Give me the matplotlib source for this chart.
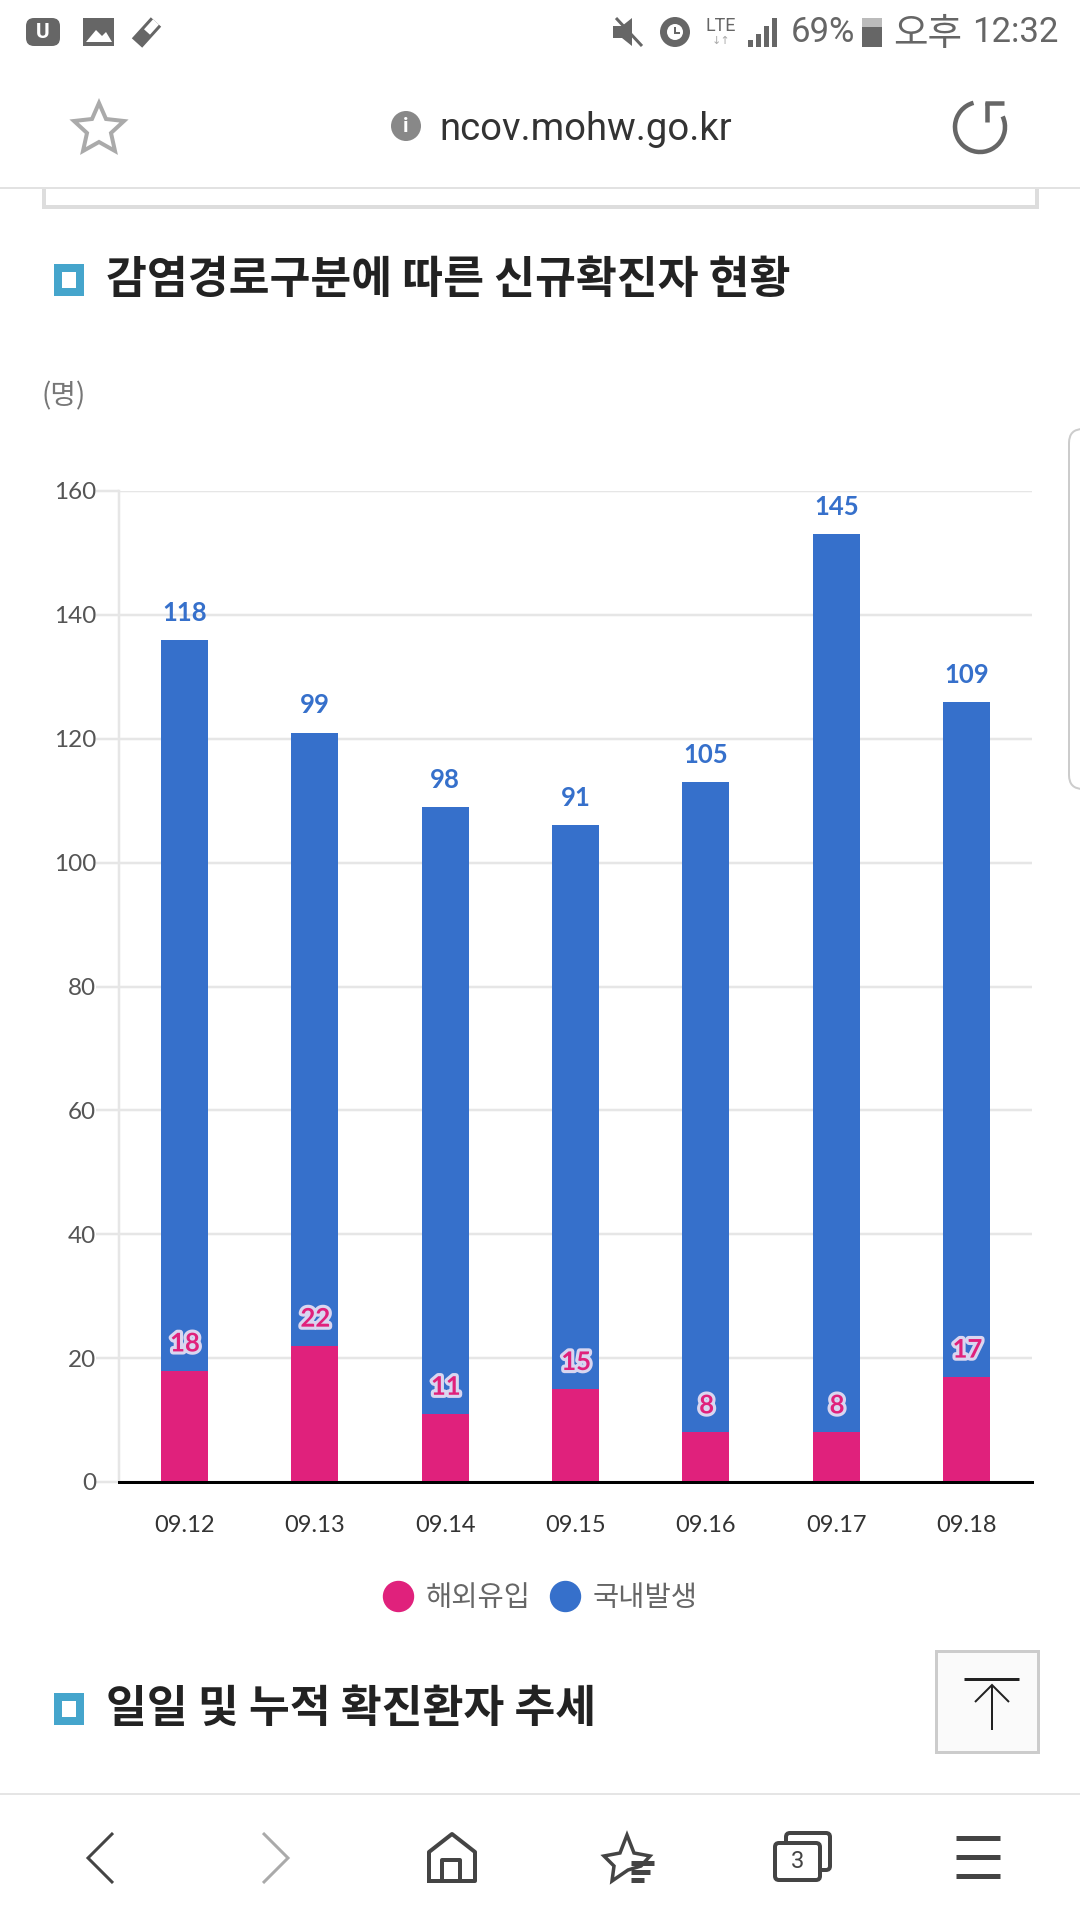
import matplotlib
matplotlib.use('Agg')
import matplotlib.pyplot as plt
import matplotlib.patheffects as pe
from matplotlib.lines import Line2D
from matplotlib.patches import Rectangle, Circle, Polygon, FancyBboxPatch, Arc

dates = ['09.12', '09.13', '09.14', '09.15', '09.16', '09.17', '09.18']
overseas = [18, 22, 11, 15, 8, 8, 17]
domestic = [118, 99, 98, 91, 105, 145, 109]
yticks = [0, 20, 40, 60, 80, 100, 120, 140, 160]

PINK = '#e0217c'
BLUE = '#3670cb'
TEAL = '#45a5cc'
KR = ['Noto Sans CJK KR', 'DejaVu Sans']
LATO = ['Lato', 'Noto Sans CJK KR']
W, H = 1080, 1920

fig = plt.figure(figsize=(W / 100, H / 100), dpi=100, facecolor='white')

# page furniture, drawn in pixel coordinates
bg = fig.add_axes([0, 0, 1, 1])
bg.set_xlim(0, W)
bg.set_ylim(H, 0)
bg.axis('off')


def px(v):
    return v * 0.72


def line(xs, ys, color='#444444', lw=3):
    bg.plot(xs, ys, color=color, lw=px(lw), solid_capstyle='butt', solid_joinstyle='miter')


def box(x0, y0, x1, y1, **kw):
    bg.add_patch(Rectangle((x0, y0), x1 - x0, y1 - y0, **kw))


def heading(y0, text):
    box(54, y0, 84, y0 + 32, fc=TEAL, ec='none')
    box(62, y0 + 8, 76, y0 + 24, fc='white', ec='none')
    bg.text(106, y0 + 16, text, family=KR, fontsize=32, weight='bold', color='#222222',
            ha='left', va='center')


# status bar
GREY = '#666666'
bg.add_patch(FancyBboxPatch((28, 20), 30, 24, boxstyle='round,pad=2,rounding_size=8', fc=GREY, ec='none'))
bg.text(43, 32, 'U', fontsize=15, weight='bold', color='white', ha='center', va='center', family='Roboto')
box(83, 18, 114, 46, fc=GREY, ec='none')
bg.add_patch(Polygon([(86, 42), (96, 30), (102, 36), (106, 32), (112, 42)], fc='white', ec='none'))
line([137, 156], [43, 22], color=GREY, lw=14)
line([147, 156], [32, 22], color='white', lw=8)
bg.add_patch(Polygon([(613, 26), (622, 26), (632, 18), (632, 46), (622, 38), (613, 38)], fc=GREY, ec='none'))
line([616, 642], [18, 46], color=GREY, lw=3)
bg.add_patch(Circle((675, 32), 15, fc=GREY, ec='none'))
bg.add_patch(Circle((675, 32), 8, fc='white', ec='none'))
line([675, 675, 680], [27, 33, 33], color=GREY, lw=2)
bg.text(721, 26, 'LTE', fontsize=13, color=GREY, family='Roboto', ha='center', va='center')
bg.text(721, 41, '↓↑', fontsize=8, color='#aaaaaa', ha='center', va='center')
for i, top in enumerate([40, 34, 26, 18]):
    box(748 + i * 8, top, 753 + i * 8, 47, fc=GREY, ec='none')
bg.text(791, 33, '69%', fontsize=25, color=GREY, family='Roboto', ha='left', va='center')
box(862, 18, 882, 47, fc='#bbbbbb', ec='none')
box(862, 27, 882, 47, fc=GREY, ec='none')
bg.text(893, 34, '오후', fontsize=27, color=GREY, family=KR, ha='left', va='center')
bg.text(972, 33, '12:32', fontsize=25, color=GREY, family='Roboto', ha='left', va='center')

# address bar
bg.add_patch(Polygon([(99, 103), (106, 119), (124, 121), (111, 133), (115, 151), (99, 142),
                      (83, 151), (87, 133), (74, 121), (92, 119)],
                     fc='white', ec='#aaaaaa', lw=px(4), joinstyle='miter'))
bg.add_patch(Circle((406, 126), 15, fc='#888888', ec='none'))
bg.text(406, 126, 'i', fontsize=15, weight='bold', color='white', ha='center', va='center', family='Roboto')
bg.text(439, 129, 'ncov.mohw.go.kr', fontsize=27.5, color='#333333', family='Roboto', ha='left', va='center')
bg.add_patch(Arc((980, 127), 50, 50, theta1=-25, theta2=255, color=GREY, lw=px(4.5)))
line([987, 987], [102, 122], color=GREY, lw=4.5)
line([985, 1004], [103, 103], color=GREY, lw=4.5)

line([0, W], [188, 188], color='#e2e2e2', lw=2)
line([44, 44, 1037, 1037], [189, 207, 207, 189], color='#dddddd', lw=4)

heading(264, '감염경로구분에 따른 신규확진자 현황')
heading(1693, '일일 및 누적 확진환자 추세')

bg.text(64, 396, '(명)', family=KR, fontsize=20, color='#777777', ha='center', va='center')
bg.add_patch(FancyBboxPatch((1069, 429), 40, 360, boxstyle='round,pad=0,rounding_size=14',
                            fc='white', ec='#cccccc', lw=px(2)))

# back to top button
box(936, 1651, 1038, 1752, fc='#fafafa', ec='#cccccc', lw=px(3))
line([964, 1019], [1679, 1679], color='#222222', lw=3)
line([992, 992], [1685, 1730], color='#222222', lw=2)
line([975, 992, 1009], [1702, 1685, 1702], color='#222222', lw=2)

# bottom navigation
line([0, W], [1794, 1794], color='#e5e5e5', lw=2)
line([113, 88, 113], [1833, 1858, 1883])
line([263, 288, 263], [1833, 1858, 1883], color='#aaaaaa')
bg.plot([429, 429, 452, 475, 475, 429], [1881, 1852, 1834, 1852, 1881, 1881], color='#444444', lw=px(4))
bg.plot([442, 442, 460, 460], [1881, 1860, 1860, 1881], color='#444444', lw=px(4))
bg.add_patch(Polygon([(627, 1835), (634, 1853), (650, 1856), (641, 1866), (628, 1870), (612, 1881), (614, 1866),
                      (604, 1856), (620, 1853)], fc='white', ec='#444444', lw=px(3.5)))
for y, x1 in zip([1863, 1872, 1880], [654, 650, 644]):
    line([631, x1], [y, y], lw=5)
bg.add_patch(FancyBboxPatch((786, 1833), 44, 37, boxstyle='round,pad=0,rounding_size=4',
                            fc='white', ec='#444444', lw=px(4)))
bg.add_patch(FancyBboxPatch((775, 1843), 45, 37, boxstyle='round,pad=0,rounding_size=4',
                            fc='white', ec='#444444', lw=px(4)))
bg.text(797, 1861, '3', fontsize=17, color='#444444', family='Roboto', ha='center', va='center')
for y in [1838, 1857, 1876]:
    line([956, 1000], [y, y], lw=5)

# chart
left, right, top, bottom = 119, 1032, 491, 1482
ax = fig.add_axes([left / W, 1 - bottom / H, (right - left) / W, (bottom - top) / H])
ax.patch.set_alpha(0)
xs = list(range(len(dates)))
totals = [a + b for a, b in zip(overseas, domestic)]
ax.bar(xs, overseas, width=0.36, color=PINK, zorder=3)
ax.bar(xs, domestic, width=0.36, bottom=overseas, color=BLUE, zorder=3)
ax.set_xlim(-0.5, len(dates) - 0.5)
ax.set_ylim(0, 160)
ax.set_yticks(yticks)
ax.set_xticks(xs, dates)
ax.yaxis.grid(True, color='#e6e6e6', lw=px(2.5), zorder=0)
ax.tick_params(axis='y', length=px(23), width=px(2.5), color='#e6e6e6', labelsize=17.5,
               labelcolor='#555555', pad=0)
ax.tick_params(axis='x', length=0, labelsize=17, labelcolor='#333333', pad=24)
ax.get_yticklines()[0].set_color('black')
for lab in ax.get_yticklabels() + ax.get_xticklabels():
    lab.set_family(LATO)
for side in ['top', 'right']:
    ax.spines[side].set_visible(False)
ax.spines['left'].set_color('#e6e6e6')
ax.spines['left'].set_linewidth(px(2.5))
ax.spines['bottom'].set_color('black')
ax.spines['bottom'].set_linewidth(px(3))
ax.spines['bottom'].set_zorder(5)

for x, o, t, d in zip(xs, overseas, totals, domestic):
    ax.annotate(str(d), (x, t), xytext=(0, 19.5), textcoords='offset points', ha='center', va='center',
                family=LATO, fontsize=18.5, weight='bold', color=BLUE, zorder=6)
    ax.annotate(str(o), (x, o), xytext=(0.5, 19.5), textcoords='offset points', ha='center', va='center',
                family=LATO, fontsize=18.5, weight='bold', color=PINK, zorder=6,
                path_effects=[pe.withStroke(linewidth=4.5, foreground='#d9d6f0')])

handles = [Line2D([], [], ls='none', marker='o', ms=px(30), color=PINK),
           Line2D([], [], ls='none', marker='o', ms=px(30), color=BLUE)]
fig.legend(handles, ['해외유입', '국내발생'], loc='center', bbox_to_anchor=(539 / W, 1 - 1598 / H),
           ncol=2, frameon=False, prop={'family': KR, 'size': 20.5, 'weight': 'light'}, labelcolor='#666666',
           handletextpad=0.38, columnspacing=0.6, handlelength=1.2)

fig.savefig('out.png', dpi=100)
